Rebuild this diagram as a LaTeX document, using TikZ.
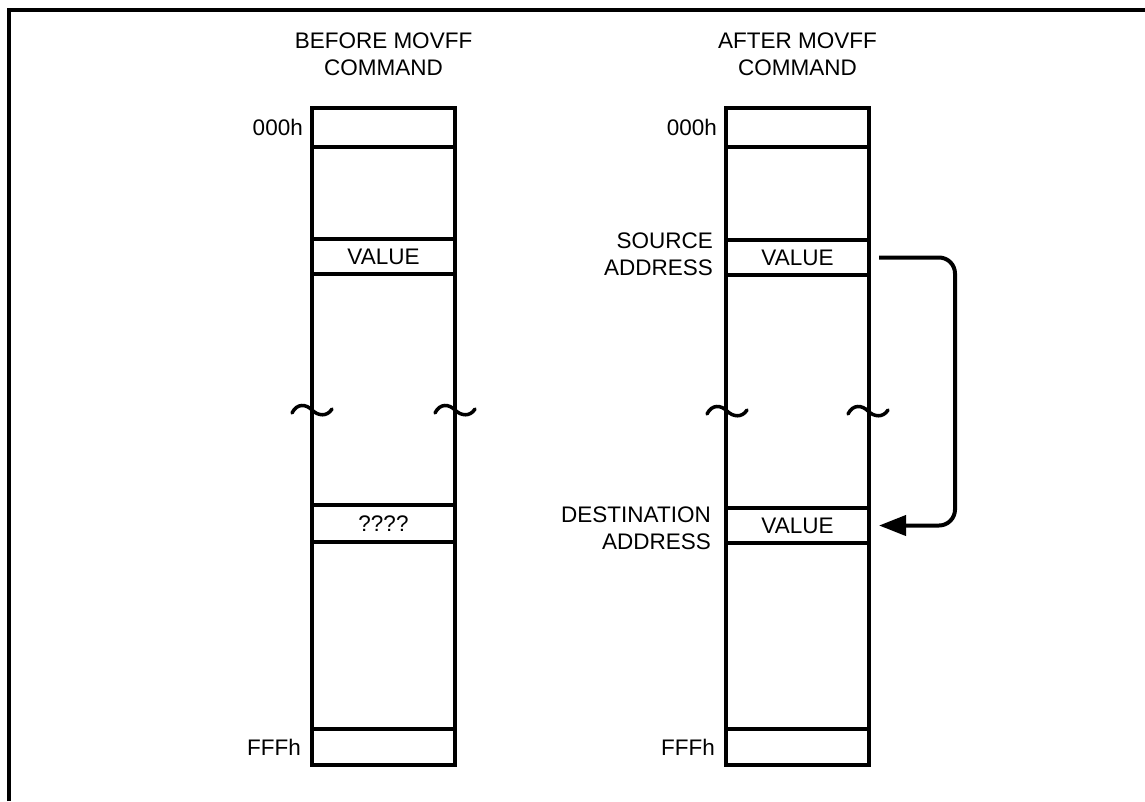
\documentclass[tikz,border=0pt]{standalone}
\usepackage{fontspec}
\setmainfont{Liberation Sans}
\usetikzlibrary{arrows.meta,calc}
\begin{document}
\begin{tikzpicture}[x=1pt,y=-1pt,
  txt/.style={font=\fontsize{22.5}{27}\selectfont, inner sep=0pt},
  column/.style={draw, line width=4pt, minimum width=143pt, inner sep=0pt},
  cell/.style={draw, line width=4pt, minimum width=143pt, inner sep=0pt, font=\fontsize{22.5}{27}\selectfont},
  frameline/.style={line width=3.5pt},
  tildeline/.style={line width=3.5pt, line cap=round},
  flow/.style={line width=4pt, rounded corners=16pt, -{Triangle[length=27pt,width=20pt]}},
  brk/.pic={\draw[tildeline] (-20,3) .. controls (-15,-7) and (-6,-6) .. (0,0) .. controls (6,6) and (15,7) .. (20,-1);}
]
\useasboundingbox (0,0) rectangle (1145,801);
% frame (top and left edges)
\draw[frameline] (9,801) -- (9,10) -- (1145,10);

% titles
\node[txt, align=center, anchor=north] (tA) at (383.5,33) {BEFORE MOVFF\\COMMAND};
\node[txt, align=center, anchor=north] (tB) at (797.5,33) {AFTER MOVFF\\COMMAND};

% left column
\node[column, minimum height=657pt] (A) at (383.5,436.5) {};
\node[cell, minimum height=39pt] (a0) at (383.5,127.5) {};
\node[cell, minimum height=35pt] (a1) at (383.5,256.5) {VALUE};
\node[cell, minimum height=37pt] (a2) at (383.5,523.5) {????};
\node[cell, minimum height=36pt] (a3) at (383.5,747) {};
\node[txt, anchor=east] (la0) at ([xshift=-7pt]a0.west) {000h};
\node[txt, anchor=east] (la3) at ([xshift=-9pt]a3.west) {FFFh};
\pic at (312,410) {brk};
\pic at (455,410) {brk};

% right column
\node[column, minimum height=657pt] (B) at (797.5,436.5) {};
\node[cell, minimum height=39pt] (b0) at (797.5,127.5) {};
\node[cell, minimum height=35pt] (b1) at (797.5,257.5) {VALUE};
\node[cell, minimum height=35pt] (b2) at (797.5,525.5) {VALUE};
\node[cell, minimum height=36pt] (b3) at (797.5,747) {};
\node[txt, anchor=east] (lb0) at ([xshift=-7pt]b0.west) {000h};
\node[txt, anchor=east] (lb3) at ([xshift=-9pt]b3.west) {FFFh};
\node[txt, align=right, anchor=north east] (src) at (713,233) {SOURCE\\ADDRESS};
\node[txt, align=right, anchor=north east] (dst) at (711,507) {DESTINATION\\ADDRESS};
\pic at (727,411) {brk};
\pic at (868,411) {brk};

% move arrow
\coordinate (turn) at (955,0);
\draw[flow] ([xshift=8pt]b1.east) -| (turn |- b2.east) -- ([xshift=8pt]b2.east);
\end{tikzpicture}
\end{document}
